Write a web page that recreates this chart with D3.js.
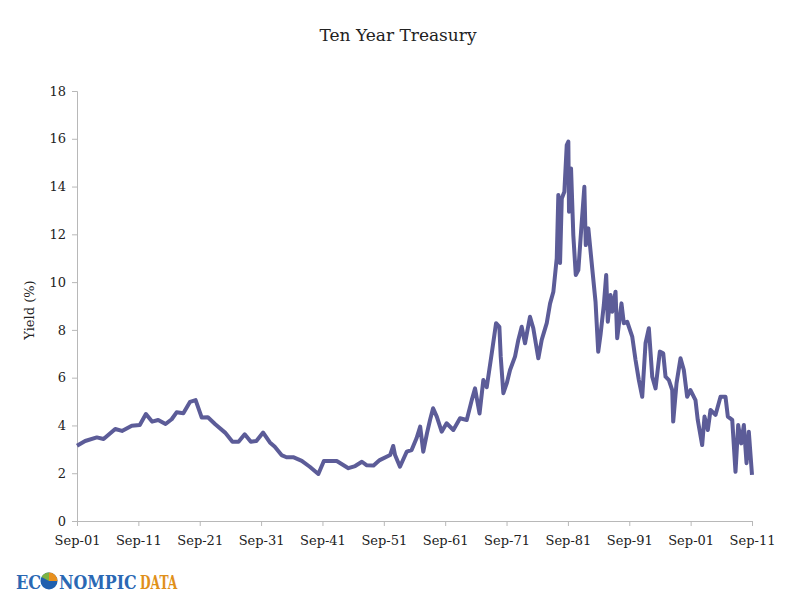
<!DOCTYPE html>
<html>
<head>
<meta charset="utf-8">
<script src="https://cdn.jsdelivr.net/npm/d3@7"></script>
<style>
  body { margin: 0; background: #fff; }
  svg { display: block; }
  .axis path, .axis line { stroke: #b8b8b8; }
  .axis text { font-family: "DejaVu Serif", serif; font-size: 13px; fill: #222; }
</style>
</head>
<body>
<svg id="chart" width="800" height="600"></svg>
<script>
// yield readings (decimal year, percent)
var years = [1901.67, 1903.0, 1904.9, 1906.0, 1907.9, 1909.0, 1910.6, 1911.9, 1912.9, 1913.9,
  1914.9, 1916.1, 1917.1, 1917.9, 1919.0, 1920.1, 1921.0, 1922.0, 1923.0, 1924.2,
  1925.8, 1927.0, 1928.0, 1929.0, 1930.0, 1930.9, 1932.0, 1933.1, 1933.9, 1935.0,
  1935.8, 1936.9, 1938.3, 1939.6, 1941.0, 1941.9, 1944.0, 1945.9, 1947.0, 1948.1,
  1948.9, 1950.0, 1951.0, 1952.7, 1953.2, 1953.5, 1954.3, 1955.4, 1956.2, 1957.0,
  1957.6, 1958.1, 1958.7, 1959.2, 1959.7, 1960.3, 1961.1, 1961.9, 1963.0, 1964.09,
  1965.18, 1966.0, 1966.53, 1967.27, 1967.89, 1968.44, 1969.26, 1969.96, 1970.5, 1970.72,
  1971.15, 1971.7, 1972.24, 1973.05, 1973.59, 1974.14, 1974.68, 1975.49, 1976.03, 1976.85,
  1977.4, 1978.22, 1978.76, 1979.3, 1979.85, 1980.11, 1980.39, 1980.67, 1981.09, 1981.48,
  1981.74, 1981.85, 1982.18, 1982.55, 1982.95, 1983.37, 1983.81, 1984.35, 1984.58, 1985.0,
  1985.63, 1986.17, 1986.61, 1986.98, 1987.52, 1987.91, 1988.17, 1988.61, 1988.89, 1989.43,
  1989.7, 1990.4, 1990.78, 1991.33, 1992.15, 1992.69, 1993.23, 1993.78, 1994.32, 1994.86,
  1995.41, 1995.95, 1996.65, 1997.2, 1997.58, 1998.12, 1998.67, 1998.83, 1999.37, 2000.02,
  2000.56, 2001.1, 2001.64, 2002.46, 2002.83, 2003.55, 2003.93, 2004.47, 2004.91, 2005.72,
  2006.54, 2007.35, 2007.73, 2008.45, 2008.98, 2009.42, 2009.91, 2010.34, 2010.78, 2011.15,
  2011.67];
var yields = [3.15, 3.35, 3.50, 3.43, 3.85, 3.77, 3.99, 4.02, 4.48, 4.16,
  4.23, 4.06, 4.26, 4.55, 4.51, 4.99, 5.06, 4.33, 4.34, 4.05,
  3.70, 3.32, 3.32, 3.63, 3.32, 3.35, 3.70, 3.29, 3.11, 2.76,
  2.67, 2.67, 2.52, 2.27, 1.97, 2.51, 2.51, 2.21, 2.30, 2.48,
  2.33, 2.32, 2.55, 2.76, 3.14, 2.76, 2.27, 2.90, 2.97, 3.46,
  3.95, 2.90, 3.67, 4.23, 4.72, 4.37, 3.74, 4.09, 3.81, 4.30,
  4.23, 5.06, 5.55, 4.50, 5.90, 5.60, 7.02, 8.28, 8.13, 6.88,
  5.35, 5.76, 6.32, 6.88, 7.58, 8.13, 7.44, 8.55, 8.07, 6.81,
  7.58, 8.28, 9.10, 9.60, 11.00, 13.65, 10.80, 13.50, 13.78, 15.74,
  15.88, 12.95, 14.76, 11.97, 10.30, 10.50, 12.10, 13.99, 11.55, 12.25,
  10.58, 9.18, 7.09, 7.79, 9.04, 10.30, 8.34, 9.46, 8.76, 9.60,
  7.65, 9.11, 8.28, 8.34, 7.72, 6.74, 5.90, 5.20, 7.44, 8.07,
  6.04, 5.55, 7.09, 7.02, 6.04, 5.90, 5.48, 4.16, 5.76, 6.81,
  6.32, 5.20, 5.48, 5.06, 4.23, 3.18, 4.37, 3.81, 4.65, 4.44,
  5.20, 5.20, 4.37, 4.23, 2.06, 4.02, 3.25, 4.02, 2.42, 3.74,
  1.93];

var tickYears = [1901.67, 1911.67, 1921.67, 1931.67, 1941.67, 1951.67, 1961.67, 1971.67, 1981.67, 1991.67, 2001.67, 2011.67];
var tickLabels = ["Sep-01", "Sep-11", "Sep-21", "Sep-31", "Sep-41", "Sep-51", "Sep-61", "Sep-71", "Sep-81", "Sep-91", "Sep-01", "Sep-11"];
var yTicks = [0, 2, 4, 6, 8, 10, 12, 14, 16, 18];

var svg = d3.select("#chart");

var x = d3.scaleLinear().domain([1901.67, 2011.67]).range([77, 752]);
var y = d3.scaleLinear().domain([0, 18]).range([521, 91]);

//title
svg.append("text")
  .attr("x", 398)
  .attr("y", 41)
  .attr("text-anchor", "middle")
  .style("font-family", "DejaVu Serif, serif")
  .style("font-size", "17px")
  .style("fill", "#222")
  .text("Ten Year Treasury");

//axes
var yAxis = d3.axisLeft(y).tickValues(yTicks).tickSize(5).tickPadding(6);
svg.append("g")
  .attr("class", "axis")
  .attr("transform", "translate(77,0)")
  .call(yAxis);

var xAxis = d3.axisBottom(x).tickValues(tickYears).tickSize(5).tickPadding(10)
  .tickFormat(function(d, i) { return tickLabels[i]; });
svg.append("g")
  .attr("class", "axis")
  .attr("transform", "translate(0,521)")
  .call(xAxis);

//y title
svg.append("text")
  .attr("transform", "translate(34,310) rotate(-90)")
  .attr("text-anchor", "middle")
  .style("font-family", "DejaVu Serif, serif")
  .style("font-size", "13px")
  .style("fill", "#222")
  .text("Yield (%)");

//the yield line
var line = d3.line()
  .x(function(d, i) { return x(years[i]); })
  .y(function(d) { return y(d); });

svg.append("path")
  .datum(yields)
  .attr("d", line)
  .attr("fill", "none")
  .attr("stroke", "#5c5c98")
  .attr("stroke-width", 4)
  .attr("stroke-linejoin", "round");

//logo, each word squeezed with its own transform so the boxes stay apart
var logo = svg.append("g").attr("class", "logo")
  .style("font-family", "DejaVu Serif, serif")
  .style("font-weight", "bold")
  .style("font-size", "18px");
logo.append("text")
  .attr("transform", "translate(16,589) scale(0.9,1)")
  .style("fill", "#2a68b4")
  .text("EC");
logo.append("circle")
  .attr("cx", 49).attr("cy", 581).attr("r", 8.5)
  .style("fill", "#1f5fae");
logo.append("path")
  .attr("d", "M49,581 L49,572.5 A8.5,8.5 0 0,1 57.5,581 Z")
  .style("fill", "#e8901e");
logo.append("path")
  .attr("d", "M49,581 L41.5,577 A8.5,8.5 0 0,1 49,572.5 Z")
  .style("fill", "#7cb342");
logo.append("text")
  .attr("transform", "translate(59,589) scale(0.88,1)")
  .style("fill", "#2a68b4")
  .text("NOMPIC");
logo.append("text")
  .attr("transform", "translate(140,589) scale(0.68,1)")
  .style("fill", "#e0901a")
  .text("DATA");
</script>
</body>
</html>
